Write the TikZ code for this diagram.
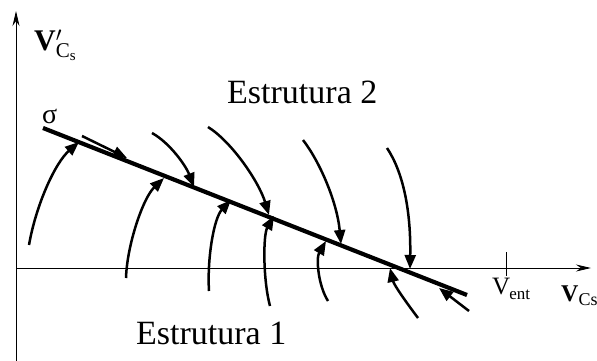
\documentclass[tikz,border=0pt]{standalone}
\usepackage{fontspec}
\setmainfont{Liberation Serif}
\usetikzlibrary{arrows.meta}
\begin{document}
\begin{tikzpicture}[x=1pt,y=-1pt,
  axis/.style={line width=0.9pt,-{Stealth[length=15pt,width=7pt]}},
  traj/.style={line width=2.5pt,-{Triangle[length=14pt,width=11pt]}},
  surf/.style={line width=4.2pt},
  lbl/.style={inner sep=0pt,anchor=base west}]
\useasboundingbox (0,0) rectangle (597,361);
% axes
\coordinate (o) at (16,268);
\coordinate (ybot) at (16,361);
\coordinate (ytop) at (16,11);
\coordinate (xend) at (591,268);
\draw[axis] (ybot) -- (ytop);
\draw[axis] (o) -- (xend);
% V_ent tick
\coordinate (t1) at (506,252);
\coordinate (t2) at (506,276);
\draw[line width=0.9pt] (t1) -- (t2);
% sliding surface
\coordinate (s1) at (43,128);
\coordinate (s2) at (467,295);
\draw[surf] (s1) -- (s2);
% trajectories from below (Estrutura 1)
\draw[traj] (29,245) .. controls (36,205) and (55,163) .. (79,142);
\draw[traj] (126,278) .. controls (127,245) and (143,198) .. (164,178);
\draw[traj] (209,291) .. controls (207,258) and (214,218) .. (231,200);
\draw[traj] (270,306) .. controls (263,280) and (263,235) .. (274,216);
\draw[traj] (328,301) .. controls (318,285) and (316,258) .. (326,241);
\draw[traj] (418,318) .. controls (406,302) and (394,285) .. (390,268);
\draw[traj] (469,311) -- (439,288);
% trajectories from above (Estrutura 2)
\draw[traj] (82,136) -- (127,158);
\draw[traj] (152,133) .. controls (170,143) and (186,166) .. (194,187);
\draw[traj] (208,127) .. controls (232,142) and (259,182) .. (269,215);
\draw[traj] (303,140) .. controls (320,162) and (337,202) .. (341,244);
\draw[traj] (387,148) .. controls (403,172) and (411,210) .. (410,269);
% labels
\node[lbl,font=\fontsize{30}{34}\selectfont] (ylab) at (34,51) {$\mathbf{V}'_{\mathrm{C}_\mathrm{s}}$};
\node[lbl,font=\fontsize{28}{32}\selectfont] (sig) at (42,123) {σ};
\node[lbl,font=\fontsize{34}{40}\selectfont] (e2) at (227,103) {Estrutura 2};
\node[lbl,font=\fontsize{34}{40}\selectfont] (e1) at (136,344) {Estrutura 1};
\node[lbl,font=\fontsize{25}{28}\selectfont] (vent) at (492,294) {V\kern-1pt\raisebox{-0.22em}{\fontsize{17}{20}\selectfont ent}};
\node[lbl,font=\fontsize{24}{28}\selectfont] (vcs) at (561,301) {\textbf{V}\raisebox{-0.2em}{\fontsize{18}{20}\selectfont Cs}};
\end{tikzpicture}
\end{document}
